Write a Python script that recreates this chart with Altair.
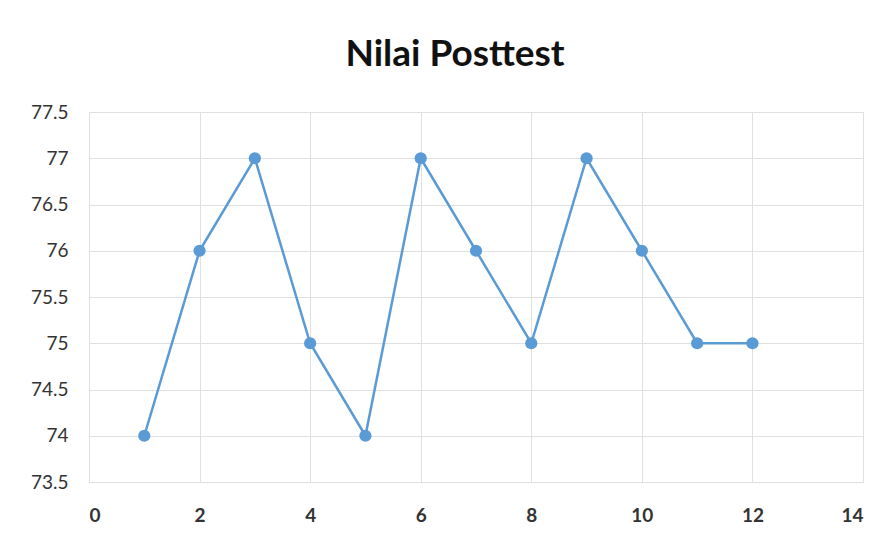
import altair as alt
import pandas as pd

xs = [1, 2, 3, 4, 5, 6, 7, 8, 9, 10, 11, 12]
ys = [74, 76, 77, 75, 74, 77, 76, 75, 77, 76, 75, 75]
x_ticks = [0, 2, 4, 6, 8, 10, 12, 14]
y_ticks = [73.5, 74, 74.5, 75, 75.5, 76, 76.5, 77, 77.5]

df = pd.DataFrame({"x": xs, "y": ys})
color = "#5B9BD5"

base = alt.Chart(df).encode(
    x=alt.X("x:Q", scale=alt.Scale(domain=[0, 14], nice=False),
            axis=alt.Axis(values=x_ticks, title=None, grid=True, gridColor="#e0e0e0",
                          domain=False, ticks=False, labelPadding=24,
                          labelFont="Lato", labelFontSize=19, labelFontWeight="bold",
                          labelColor="#333333")),
    y=alt.Y("y:Q", scale=alt.Scale(domain=[73.5, 77.5], nice=False, zero=False),
            axis=alt.Axis(values=y_ticks, title=None, grid=True, gridColor="#e0e0e0",
                          domain=False, ticks=False, labelPadding=21, format="~g",
                          labelFont="Lato", labelFontSize=19, labelColor="#333333",
                          labelFlush=False)),
)

line = base.mark_line(color=color, strokeWidth=2.5)
pts = base.mark_circle(color=color, size=150, opacity=1)

chart = (line + pts).properties(
    width=774, height=370,
    autosize=alt.AutoSizeParams(type="none"),
    padding={"left": 81, "top": 104, "right": 22, "bottom": 55},
    title=alt.TitleParams("Nilai Posttest", font="Lato", fontSize=37, fontWeight="bold",
                          color="#111111", anchor="middle", dx=-21, offset=29),
).configure_view(stroke="#d9d9d9")

chart.save("out.html", embed_options={"renderer": "svg", "actions": False})
